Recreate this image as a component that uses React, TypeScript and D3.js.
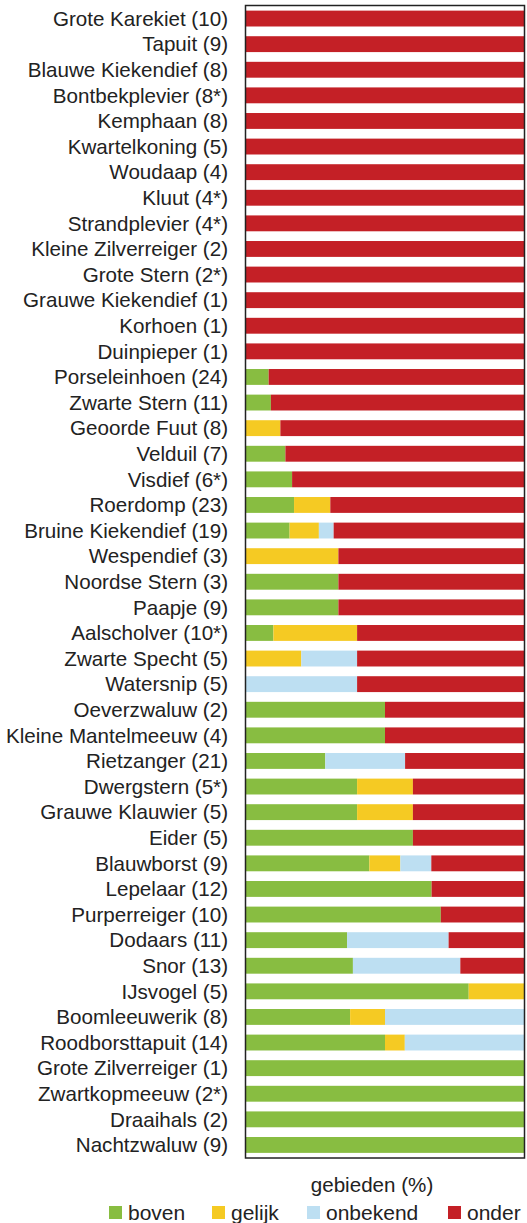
import React from "react"
import { scaleBand, scaleLinear, stack } from "d3"

const width = 527
const height = 1223

const species = [
  "Grote Karekiet (10)", "Tapuit (9)", "Blauwe Kiekendief (8)", "Bontbekplevier (8*)",
  "Kemphaan (8)", "Kwartelkoning (5)", "Woudaap (4)", "Kluut (4*)", "Strandplevier (4*)",
  "Kleine Zilverreiger (2)", "Grote Stern (2*)", "Grauwe Kiekendief (1)", "Korhoen (1)",
  "Duinpieper (1)", "Porseleinhoen (24)", "Zwarte Stern (11)", "Geoorde Fuut (8)",
  "Velduil (7)", "Visdief (6*)", "Roerdomp (23)", "Bruine Kiekendief (19)", "Wespendief (3)",
  "Noordse Stern (3)", "Paapje (9)", "Aalscholver (10*)", "Zwarte Specht (5)", "Watersnip (5)",
  "Oeverzwaluw (2)", "Kleine Mantelmeeuw (4)", "Rietzanger (21)", "Dwergstern (5*)",
  "Grauwe Klauwier (5)", "Eider (5)", "Blauwborst (9)", "Lepelaar (12)", "Purperreiger (10)",
  "Dodaars (11)", "Snor (13)", "IJsvogel (5)", "Boomleeuwerik (8)", "Roodborsttapuit (14)",
  "Grote Zilverreiger (1)", "Zwartkopmeeuw (2*)", "Draaihals (2)", "Nachtzwaluw (9)"
]

// percentage of areas per class
const boven = [
  0, 0, 0, 0, 0, 0, 0, 0, 0, 0, 0, 0, 0, 0,
  8.3, 9.1, 0, 14.3, 16.7, 17.4, 15.8, 0, 33.3, 33.3, 10, 0, 0,
  50, 50, 28.6, 40, 40, 60, 44.4, 66.7, 70, 36.4, 38.5, 80, 37.5, 50,
  100, 100, 100, 100
]
const gelijk = [
  0, 0, 0, 0, 0, 0, 0, 0, 0, 0, 0, 0, 0, 0,
  0, 0, 12.5, 0, 0, 13.0, 10.5, 33.3, 0, 0, 30, 20, 0,
  0, 0, 0, 20, 20, 0, 11.1, 0, 0, 0, 0, 20, 12.5, 7.1,
  0, 0, 0, 0
]
const onbekend = [
  0, 0, 0, 0, 0, 0, 0, 0, 0, 0, 0, 0, 0, 0,
  0, 0, 0, 0, 0, 0, 5.3, 0, 0, 0, 0, 20, 40,
  0, 0, 28.6, 0, 0, 0, 11.1, 0, 0, 36.4, 38.5, 0, 50, 42.9,
  0, 0, 0, 0
]
const onder = [
  100, 100, 100, 100, 100, 100, 100, 100, 100, 100, 100, 100, 100, 100,
  91.7, 90.9, 87.5, 85.7, 83.3, 69.6, 68.4, 66.7, 66.7, 66.7, 60, 60, 60,
  50, 50, 42.8, 40, 40, 40, 33.4, 33.3, 30, 27.2, 23.0, 0, 0, 0,
  0, 0, 0, 0
]

const keys = ["boven", "gelijk", "onbekend", "onder"]
const legendLabels = ["boven", "gelijk", "onbekend", "onder"]
const colors = ["#88bd41", "#f5ca23", "#bddff2", "#c42026"]

const plot = { left: 245.5, right: 524.5, top: 5.5, bottom: 1158 }
const font = "'Liberation Sans', Arial, sans-serif"

function App() {
  const rows = species.map((name, i) => ({
    name,
    boven: boven[i],
    gelijk: gelijk[i],
    onbekend: onbekend[i],
    onder: onder[i]
  }))

  const series = stack().keys(keys)(rows as any)

  const yScale = scaleBand()
    .domain(species)
    .range([plot.top, plot.bottom])
    .paddingInner(0.38)
    .paddingOuter(0.2)

  const xScale = scaleLinear()
    .domain([0, 100])
    .range([plot.left, plot.right])

  const legendX = [109, 212, 307, 448]

  return (
    <svg width={width} height={height} style={{ position: "absolute", left: 0, top: 0 }}>
      {series.map((s, si) => (
        <g key={keys[si]} fill={colors[si]}>
          {s.map((d, i) => (
            d[1] - d[0] > 0 ? (
              <rect
                key={i}
                x={xScale(d[0])}
                y={yScale(species[i])}
                width={xScale(d[1]) - xScale(d[0])}
                height={yScale.bandwidth()}
              />
            ) : null
          ))}
        </g>
      ))}
      <rect
        x={plot.left}
        y={plot.top}
        width={plot.right - plot.left}
        height={plot.bottom - plot.top}
        fill="none"
        stroke="#222"
        strokeWidth={1.5}
      />
      {species.map(name => (
        <text
          key={name}
          x={228}
          y={(yScale(name) as number) + yScale.bandwidth() / 2}
          dy="0.35em"
          textAnchor="end"
          fontFamily={font}
          fontSize={20.6}
          fill="#222"
        >{name}</text>
      ))}
      <text
        x={372}
        y={1185}
        dy="0.35em"
        textAnchor="middle"
        fontFamily={font}
        fontSize={20.6}
        fill="#222"
      >gebieden (%)</text>
      {legendLabels.map((label, i) => (
        <g key={label} transform={`translate(${legendX[i]}, 1206)`}>
          <rect width={13} height={13} fill={colors[i]} />
          <text
            x={19}
            y={6.5}
            dy="0.35em"
            fontFamily={font}
            fontSize={21}
            fill="#222"
          >{label}</text>
        </g>
      ))}
    </svg>
  )
}

export default App
